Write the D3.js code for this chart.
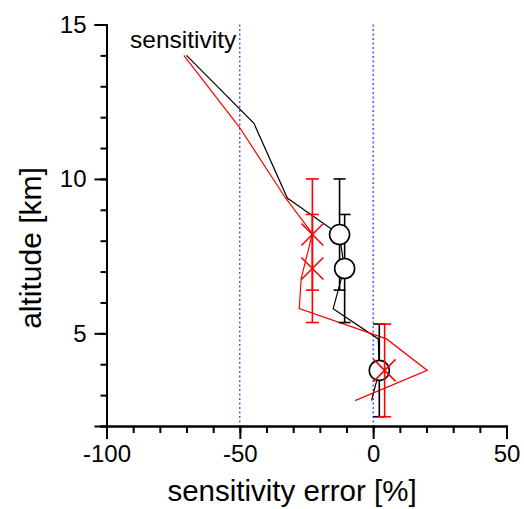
<!DOCTYPE html>
<html>
<head>
<meta charset="utf-8">
<script src="https://cdn.jsdelivr.net/npm/d3@7"></script>
<style>
  body { margin: 0; background: #fff; }
  svg { display: block; font-family: "Liberation Sans", Arial, sans-serif; }
</style>
</head>
<body>
<script>
// profile lines (x = sensitivity error %, alt = km)
var blackX = [-70, -44.7, -32.2, -12.7, -10.8, -15, 1.9, 2.3, -0.6]
var blackAlt = [14, 11.8, 9.38, 8.2, 7.13, 5.8, 4.82, 3.8, 2.82]
var redX = [-71, -50.2, -33, -22.8, -27, -27.7, 5, 20.3, -6.8]
var redAlt = [14, 11.68, 9.4, 8.23, 6.77, 5.8, 4.82, 3.8, 2.82]

// markers with error bars
var markAlt = [8.2, 7.1, 3.8]
var blackMarkX = [-12.6, -10.7, 2.3]
var redMarkX = [-22.8, -22.8, 4.3]
var barLo = [6.4, 5.35, 2.3]
var barHi = [10.0, 8.85, 5.3]

var xMajor = [-100, -50, 0, 50]
var yMajor = [5, 10, 15]
var refLines = [-50, 0]

var width = 524, height = 509

var svg = d3.select("body").append("svg")
    .attr("width", width)
    .attr("height", height)

var x = d3.scaleLinear().domain([-100, 50]).range([106.5, 506.5])
var y = d3.scaleLinear().domain([2, 15]).range([426, 24.5])

// dotted reference lines
svg.selectAll(".ref")
    .data(refLines)
    .enter()
    .append("line")
    .attr("x1", function (d) { return x(d) })
    .attr("x2", function (d) { return x(d) })
    .attr("y1", y(15))
    .attr("y2", y(2))
    .attr("stroke", "#0000ff")
    .attr("stroke-width", 1)
    .attr("stroke-dasharray", "2,2.5")

// axes: minor ticks then major ticks with labels
var xMinor = d3.range(-100, 51, 10)
var yMinor = d3.range(2, 15.5, 1)
var plain = function (d) { return String(d) }

svg.append("g")
    .attr("transform", "translate(0," + y(2) + ")")
    .call(d3.axisBottom(x).tickValues(xMinor).tickSize(7).tickFormat(""))
svg.append("g")
    .attr("transform", "translate(0," + y(2) + ")")
    .call(d3.axisBottom(x).tickValues(xMajor).tickSize(13).tickPadding(6).tickFormat(plain))

svg.append("g")
    .attr("transform", "translate(" + x(-100) + ",0)")
    .call(d3.axisLeft(y).tickValues(yMinor).tickSize(6).tickFormat(""))
svg.append("g")
    .attr("transform", "translate(" + x(-100) + ",0)")
    .call(d3.axisLeft(y).tickValues(yMajor).tickSize(12).tickPadding(8).tickFormat(plain))

svg.selectAll(".domain").attr("stroke", "#000").attr("stroke-width", 2)
svg.selectAll(".tick line").attr("stroke", "#000").attr("stroke-width", 2)
svg.selectAll(".tick text")
    .attr("fill", "#000")
    .style("font-size", "24px")
    .style("font-family", "Liberation Sans, Arial, sans-serif")

// lines
var line = d3.line()
    .x(function (d) { return x(d[0]) })
    .y(function (d) { return y(d[1]) })

svg.append("path")
    .datum(d3.zip(blackX, blackAlt))
    .attr("d", line)
    .attr("fill", "none")
    .attr("stroke", "#000")
    .attr("stroke-width", 1.2)

svg.append("path")
    .datum(d3.zip(redX, redAlt))
    .attr("d", line)
    .attr("fill", "none")
    .attr("stroke", "#ff0000")
    .attr("stroke-width", 1.2)

// error bars
var drawBars = function (xs, color, capHalf) {
    var g = svg.append("g").attr("stroke", color).attr("stroke-width", 1.6)
    xs.forEach(function (xv, i) {
        g.append("line")
            .attr("x1", x(xv)).attr("x2", x(xv))
            .attr("y1", y(barLo[i])).attr("y2", y(barHi[i]))
        g.append("line")
            .attr("x1", x(xv) - capHalf).attr("x2", x(xv) + capHalf)
            .attr("y1", y(barLo[i])).attr("y2", y(barLo[i]))
        g.append("line")
            .attr("x1", x(xv) - capHalf).attr("x2", x(xv) + capHalf)
            .attr("y1", y(barHi[i])).attr("y2", y(barHi[i]))
    })
}

drawBars(blackMarkX, "#000", 6)

svg.selectAll(".circ")
    .data(d3.zip(blackMarkX, markAlt))
    .enter()
    .append("circle")
    .attr("cx", function (d) { return x(d[0]) })
    .attr("cy", function (d) { return y(d[1]) })
    .attr("r", 10)
    .attr("fill", "#fff")
    .attr("stroke", "#000")
    .attr("stroke-width", 1.6)

drawBars(redMarkX, "#ff0000", 6.5)

var cross = svg.append("g").attr("stroke", "#ff0000").attr("stroke-width", 1.6)
d3.zip(redMarkX, markAlt).forEach(function (d) {
    var cx = x(d[0]), cy = y(d[1]), s = 11
    cross.append("line").attr("x1", cx - s).attr("y1", cy - s).attr("x2", cx + s).attr("y2", cy + s)
    cross.append("line").attr("x1", cx - s).attr("y1", cy + s).attr("x2", cx + s).attr("y2", cy - s)
})

// labels
svg.append("text")
    .attr("x", 130)
    .attr("y", 48)
    .style("font-size", "24.5px")
    .text("sensitivity")

svg.append("text")
    .attr("x", 292)
    .attr("y", 501)
    .attr("text-anchor", "middle")
    .style("font-size", "29.5px")
    .text("sensitivity error [%]")

svg.append("text")
    .attr("transform", "translate(41,248) rotate(-90)")
    .attr("text-anchor", "middle")
    .style("font-size", "30px")
    .text("altitude [km]")
</script>
</body>
</html>
